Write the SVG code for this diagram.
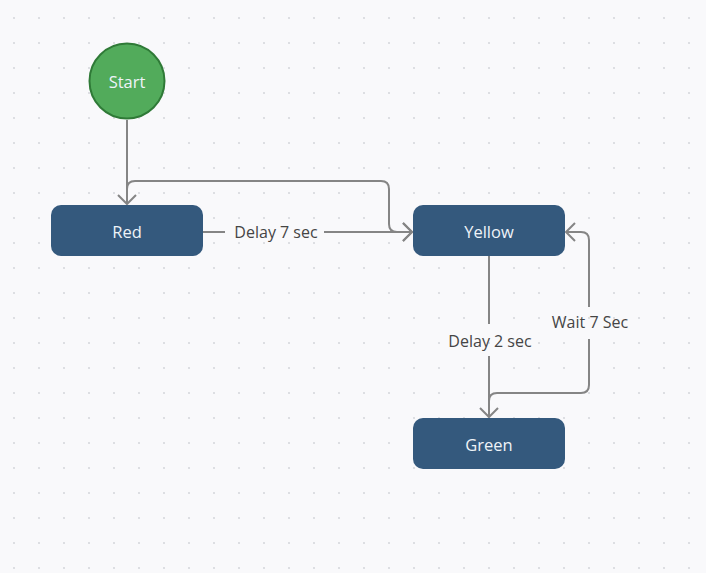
<svg xmlns="http://www.w3.org/2000/svg" width="706" height="573" viewBox="0 0 706 573">
<style>
.node{fill:#34597d}
.nlabel{font-family:"Open Sans","Liberation Sans",sans-serif;font-size:16.5px;fill:#eef3f8;text-anchor:middle}
.elabel{font-family:"Open Sans","Liberation Sans",sans-serif;font-size:16px;fill:#454545;text-anchor:middle}
.conn{fill:none;stroke:#858585;stroke-width:2}
</style>
<defs>
<pattern id="dots" width="25" height="25" patternUnits="userSpaceOnUse">
<circle cx="14" cy="18" r="1.1" fill="#d6d8dd"/>
</pattern>
<marker id="arrow" markerUnits="userSpaceOnUse" markerWidth="24" markerHeight="24" viewBox="-12 -12 24 24" refX="0" refY="0" orient="auto">
<path d="M-9,-9 L0,0 L-9,9" fill="none" stroke="#858585" stroke-width="2"/>
</marker>
</defs>
<rect width="706" height="573" fill="#f9f9fb"/>
<rect width="706" height="573" fill="url(#dots)"/>
<g id="connectors">
<path class="conn" d="M127,120 L127,204" marker-end="url(#arrow)"/>
<path class="conn" d="M127,200 L127,189 Q127,181 135,181 L381,181 Q389,181 389,189 L389,224 Q389,232 397,232 L412,232" marker-end="url(#arrow)"/>
<path class="conn" d="M203,232 L225,232"/>
<path class="conn" d="M324,232 L412,232" marker-end="url(#arrow)"/>
<text class="elabel" x="276" y="238">Delay 7 sec</text>
<path class="conn" d="M489,256 L489,324"/>
<path class="conn" d="M489,356 L489,417" marker-end="url(#arrow)"/>
<text class="elabel" x="490" y="347">Delay 2 sec</text>
<path class="conn" d="M489,410 L489,401 Q489,393 497,393 L581,393 Q589,393 589,385 L589,339"/>
<path class="conn" d="M589,307 L589,240 Q589,232 581,232 L566,232" marker-end="url(#arrow)"/>
<text class="elabel" x="590" y="328">Wait 7 Sec</text>
</g>
<g id="start">
<circle cx="127" cy="81" r="37.5" fill="#52ab5b" stroke="#2f7a37" stroke-width="2"/>
<text class="nlabel" x="127" y="88">Start</text>
</g>
<g id="red">
<rect class="node" x="51" y="205" width="152" height="51" rx="10"/>
<text class="nlabel" x="127" y="238">Red</text>
</g>
<g id="yellow">
<rect class="node" x="413" y="205" width="152" height="51" rx="10"/>
<text class="nlabel" x="489" y="238">Yellow</text>
</g>
<g id="green">
<rect class="node" x="413" y="418" width="152" height="51" rx="10"/>
<text class="nlabel" x="489" y="451">Green</text>
</g>
</svg>
